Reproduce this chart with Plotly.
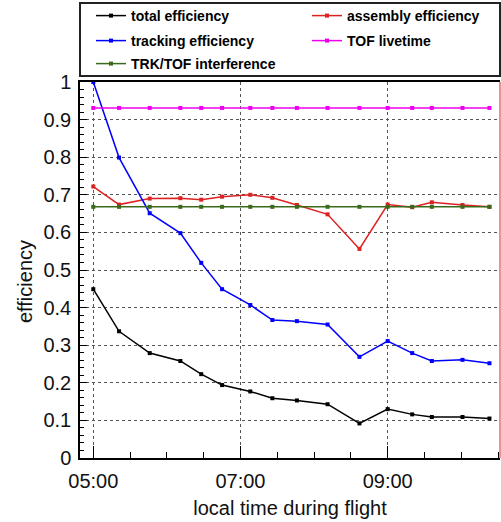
import plotly.graph_objects as go

# ---- data ----
times = ["05:00", "05:21", "05:46", "06:11", "06:28", "06:45", "07:08", "07:26",
         "07:46", "08:11", "08:37", "09:00", "09:20", "09:36", "10:01", "10:23"]
total_eff = [0.449, 0.337, 0.279, 0.258, 0.223, 0.194, 0.177, 0.159,
             0.153, 0.143, 0.092, 0.130, 0.116, 0.109, 0.109, 0.105]
assembly_eff = [0.722, 0.674, 0.690, 0.691, 0.687, 0.695, 0.700, 0.692,
                0.673, 0.648, 0.556, 0.674, 0.667, 0.680, 0.673, 0.668]
tracking_eff = [1.0, 0.799, 0.651, 0.598, 0.519, 0.449, 0.407, 0.367,
                0.364, 0.355, 0.269, 0.311, 0.279, 0.258, 0.261, 0.252]
tof_livetime = [0.931] * 16
trk_tof_interf = [0.668] * 16

y_ticks = [0, 0.1, 0.2, 0.3, 0.4, 0.5, 0.6, 0.7, 0.8, 0.9, 1]
y_ticklabels = ["0", "0.1", "0.2", "0.3", "0.4", "0.5", "0.6", "0.7", "0.8", "0.9", "1"]
x_ticks = ["05:00", "07:00", "09:00"]

DAY = "2024-01-01 "
x = [DAY + t for t in times]

FONT = "Liberation Sans, Arial, Helvetica, sans-serif"
W, H = 501, 522

# legend placement (pixel positions of the legend entries: left edge, row centre)
series = [
    ("total efficiency", total_eff, "#000000", "legend", 91, 16),
    ("assembly efficiency", assembly_eff, "#dd2222", "legend2", 307, 16),
    ("tracking efficiency", tracking_eff, "#0000ff", "legend3", 91, 41),
    ("TOF livetime", tof_livetime, "#ee00ee", "legend4", 307, 41),
    ("TRK/TOF interference", trk_tof_interf, "#3a6a1a", "legend5", 91, 64),
]

fig = go.Figure()
legends = {}
for name, vals, col, lg, lx, ly in series:
    fig.add_trace(go.Scatter(
        x=x, y=vals, name=name, mode="lines+markers", legend=lg,
        line=dict(color=col, width=1.5),
        marker=dict(color=col, size=4, symbol="square"),
    ))
    legends[lg] = dict(
        xref="container", yref="container",
        x=lx / W, y=1 - ly / H, xanchor="left", yanchor="middle",
        bgcolor="rgba(0,0,0,0)", borderwidth=0, itemwidth=30,
        font=dict(family=FONT, size=14, color="#000", weight="bold"),
    )

def px2py(p):
    return (458 - p) / 376.0

fig.update_layout(
    width=W, height=H,
    margin=dict(l=80, r=1, t=82, b=64, autoexpand=False),
    paper_bgcolor="white", plot_bgcolor="white",
    showlegend=True,
    font=dict(family=FONT, size=20, color="#000"),
    **legends,
)

fig.update_xaxes(
    type="date",
    range=[DAY + "04:49:10", DAY + "10:31:35"],
    tickvals=[DAY + t for t in x_ticks], ticktext=x_ticks,
    ticks="inside", ticklen=12, tickcolor="#000", tickwidth=1,
    ticklabelstandoff=4,
    minor=dict(dtick=1800000, tick0=DAY + "05:00", ticks="inside", ticklen=6,
               tickcolor="#000", showgrid=False),
    showgrid=True, gridcolor="#555", griddash="dot", gridwidth=1,
    showline=True, linecolor="#000", linewidth=1.5, mirror=True,
    zeroline=False,
    tickfont=dict(family=FONT, size=20, color="#111"),
    title=dict(text="local time during flight", font=dict(family=FONT, size=20, color="#111"), standoff=10),
)
fig.update_yaxes(
    range=[0, 1],
    tickvals=y_ticks, ticktext=y_ticklabels,
    ticks="inside", ticklen=7, tickcolor="#000", tickwidth=1,
    ticklabelstandoff=3,
    minor=dict(dtick=0.02, ticks="inside", ticklen=4, tickcolor="#000", showgrid=False),
    showgrid=True, gridcolor="#555", griddash="dot", gridwidth=1,
    showline=True, linecolor="#000", linewidth=1.5,
    zeroline=False,
    tickfont=dict(family=FONT, size=20, color="#111"),
)

# y-axis title
fig.add_annotation(text="efficiency", xref="paper", yref="paper",
                   x=(25 - 80) / 420.0, y=px2py(282), textangle=-90,
                   showarrow=False, xanchor="center", yanchor="middle",
                   font=dict(family=FONT, size=20, color="#111"))

# right frame edge (reddish) and legend box
fig.add_shape(type="line", xref="paper", yref="paper", x0=1, x1=1, y0=0, y1=1,
              line=dict(color="#e07070", width=1.5))
fig.add_shape(type="rect", xref="paper", yref="paper",
              x0=0.0, x1=1.0, y0=px2py(76), y1=px2py(3),
              line=dict(color="#222", width=2), fillcolor="rgba(0,0,0,0)")

fig.write_html("out.html", config={"displayModeBar": False},
               post_script="document.body.style.margin='0';")
